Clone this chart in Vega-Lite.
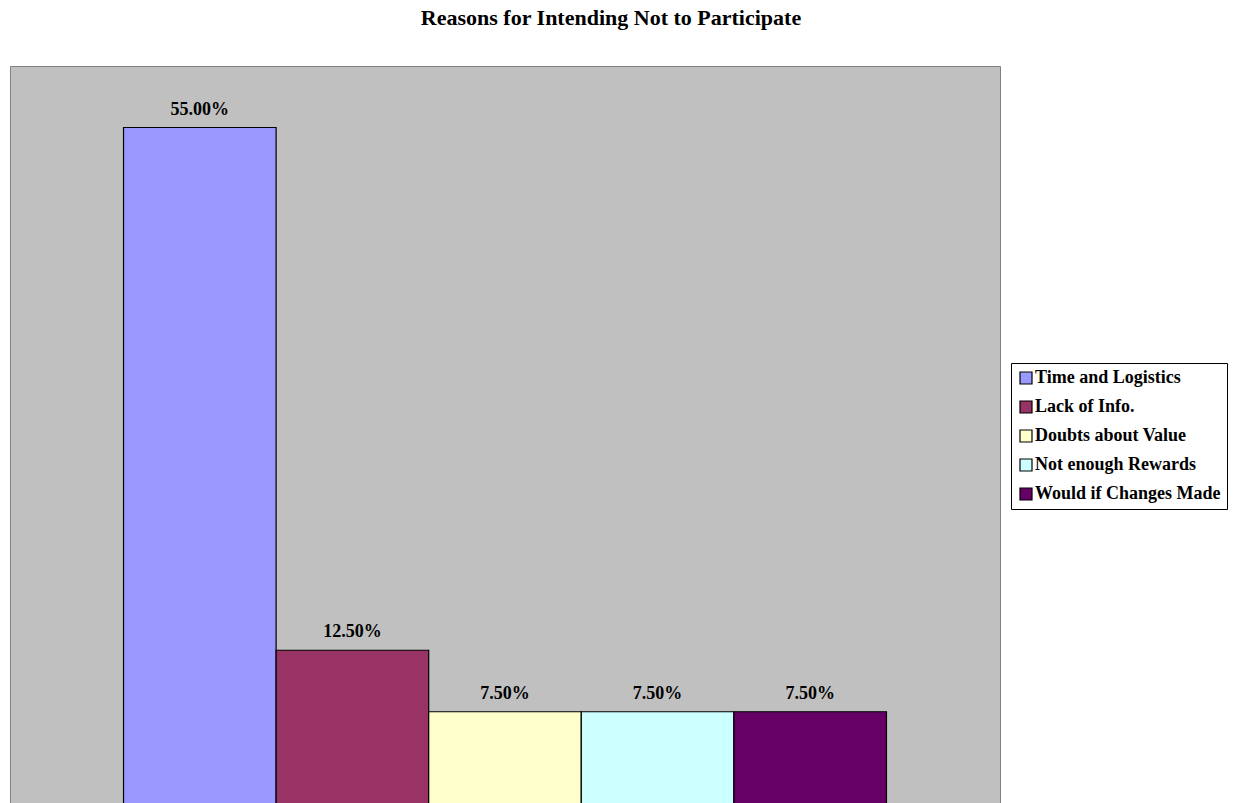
{
  "$schema": "https://vega.github.io/schema/vega-lite/v6.json",
  "autosize": "none",
  "width": 990,
  "height": 738,
  "padding": {"left": 10, "top": 66, "right": 236, "bottom": 0},
  "background": "white",
  "title": {
    "text": "Reasons for Intending Not to Participate",
    "font": "Liberation Serif",
    "fontSize": 22,
    "fontWeight": "bold",
    "color": "black",
    "anchor": "middle",
    "frame": "group",
    "dx": 106,
    "offset": 19,
    "baseline": "alphabetic"
  },
  "config": {
    "view": {"fill": "#C0C0C0", "stroke": "#808080", "strokeWidth": 1},
    "font": "Liberation Serif"
  },
  "data": {
    "values": [
      {"reason": "Time and Logistics", "pct": 55.0, "label": "55.00%"},
      {"reason": "Lack of Info.", "pct": 12.5, "label": "12.50%"},
      {"reason": "Doubts about Value", "pct": 7.5, "label": "7.50%"},
      {"reason": "Not enough Rewards", "pct": 7.5, "label": "7.50%"},
      {"reason": "Would if Changes Made", "pct": 7.5, "label": "7.50%"}
    ]
  },
  "encoding": {
    "x": {
      "field": "reason",
      "type": "nominal",
      "sort": null,
      "axis": null,
      "scale": {"paddingInner": 0, "paddingOuter": 0.744}
    },
    "y": {
      "field": "pct",
      "type": "quantitative",
      "axis": null,
      "scale": {"domain": [0, 60], "nice": false, "zero": true}
    }
  },
  "layer": [
    {
      "mark": {"type": "bar", "stroke": "black", "strokeWidth": 1.2},
      "encoding": {
        "color": {
          "field": "reason",
          "type": "nominal",
          "sort": null,
          "scale": {
            "domain": ["Time and Logistics", "Lack of Info.", "Doubts about Value", "Not enough Rewards", "Would if Changes Made"],
            "range": ["#9999FF", "#993366", "#FFFFCC", "#CCFFFF", "#660066"]
          },
          "legend": {
            "title": null,
            "orient": "none",
            "legendX": 1001,
            "legendY": 297,
            "fillColor": "white",
            "strokeColor": "black",
            "padding": 6,
            "symbolType": "square",
            "symbolSize": 144,
            "symbolStrokeColor": "black",
            "symbolStrokeWidth": 1.2,
            "symbolOpacity": 1,
            "labelFont": "Liberation Serif",
            "labelFontSize": 18,
            "labelFontWeight": "bold",
            "labelColor": "black",
            "labelOffset": 0,
            "rowPadding": 11,
            "labelLimit": 300
          }
        }
      }
    },
    {
      "mark": {
        "type": "text",
        "font": "Liberation Serif",
        "fontSize": 18,
        "fontWeight": "bold",
        "color": "black",
        "baseline": "alphabetic",
        "dy": -13
      },
      "encoding": {"text": {"field": "label"}}
    }
  ]
}
